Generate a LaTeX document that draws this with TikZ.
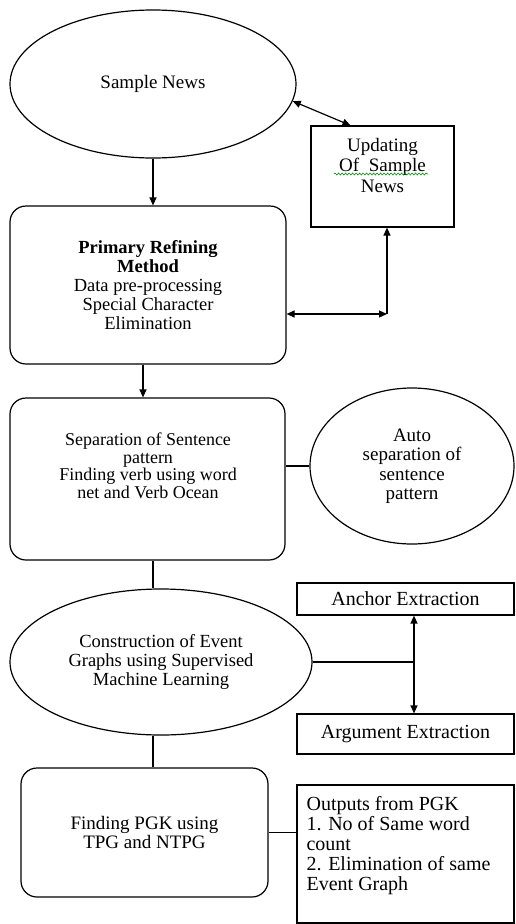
\documentclass[tikz,border=0pt]{standalone}
\usepackage{fontspec}
\setmainfont{Liberation Serif}
\usetikzlibrary{shapes.geometric,arrows.meta,decorations.pathmorphing}
\newcommand\fsz[2]{\fontsize{#1}{#2}\selectfont}
\begin{document}
\begin{tikzpicture}[x=1pt,y=-1pt,line width=1.2pt,
  oval/.style={draw,ellipse,inner sep=0pt,align=center},
  rect/.style={draw,rectangle,inner sep=0pt,align=center},
  rbox/.style={draw,rectangle,rounded corners=16pt,inner sep=0pt,align=center},
  txt/.style={inner sep=0pt,align=center},
  arr/.style={-{Triangle[length=8pt,width=7pt]}},
  darr/.style={{Triangle[length=8pt,width=7pt]}-{Triangle[length=8pt,width=7pt]}}]
\useasboundingbox (0,0) rectangle (516,924);

% main column
\node[oval,minimum width=286,minimum height=148,font=\fsz{19}{20}] (news) at (153,84) {Sample News};
\node[rbox,minimum width=276,minimum height=158,font=\fsz{18.5}{19}] (prim) at (148,285)
  {\textbf{Primary Refining}\\\textbf{Method}\\Data pre-processing\\Special Character\\Elimination};
\node[rbox,minimum width=275,minimum height=162] (sep) at (147.5,479) {};
\node[txt,font=\fsz{18}{17.5}] (septxt) at (148,466)
  {Separation of Sentence\\pattern\\Finding verb using word\\net and Verb Ocean};
\node[oval,minimum width=302,minimum height=146,font=\fsz{18.5}{19}] (cons) at (161,662)
  {Construction of Event\\Graphs using Supervised\\Machine Learning};
\node[rbox,minimum width=247,minimum height=129,font=\fsz{19}{19}] (fin) at (144.5,832.5)
  {Finding PGK using\\TPG and NTPG};

% side column
\node[rect,minimum width=143,minimum height=101] (upd) at (382.5,176.5) {};
\node[txt,font=\fsz{19}{20.5}] (updtxt) at (382.5,165) {Updating\\Of\ \ Sample\\News};
\draw[green!55!black,line width=0.6pt,decorate,decoration={snake,amplitude=1pt,segment length=3.5pt}]
  (334,174) -- (428,174);
\node[oval,minimum width=204,minimum height=156,font=\fsz{19}{19.5}] (auto) at (412,466)
  {Auto\\separation of\\sentence\\pattern};
\node[rect,minimum width=217,minimum height=32,font=\fsz{20}{20}] (anc) at (405.5,599) {Anchor Extraction};
\node[rect,minimum width=217,minimum height=40,font=\fsz{20}{20}] (arg) at (405.5,734) {Argument Extraction};
\node[rect,minimum width=217,minimum height=138] (out) at (405.5,854) {};
\node[txt,anchor=north west,align=left,font=\fsz{20}{20}] (outtxt) at (306,796)
  {Outputs from PGK\\1. No of Same word\\count\\2. Elimination of same\\Event Graph};

% connectors
\draw[arr] (news.south) -- (news.south |- prim.north);
\draw[darr] (news.-7) -- ([xshift=-32pt]upd.north);
\coordinate (c1) at (387,314);
\draw[darr] (prim.east |- c1) -- (c1);
\draw[arr] (c1) -- (c1 |- upd.south);
\draw[arr] ([xshift=-5pt]prim.south) -- ([xshift=-5pt]prim.south |- sep.north);
\draw (auto.west) -- (auto.west -| sep.east);
\draw ([xshift=5.5pt]sep.south) -- ([xshift=5.5pt]sep.south |- cons.north);
\coordinate (j) at (414,660);
\draw (cons.east) -- (cons.east -| j);
\draw[darr] (j |- anc.south) -- (j |- arg.north);
\draw ([xshift=-8pt]cons.south) -- ([xshift=-8pt]cons.south |- fin.north);
\draw (fin.east) -- (fin.east -| out.west);
\end{tikzpicture}
\end{document}
